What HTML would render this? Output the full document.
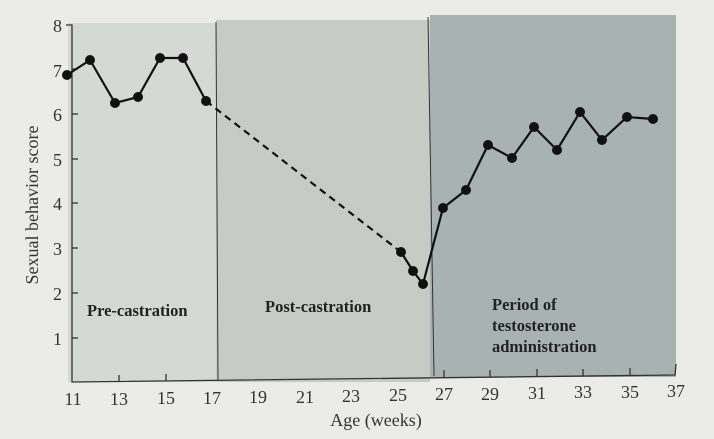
<!DOCTYPE html>
<html><head><meta charset="utf-8"><style>
html,body{margin:0;padding:0;background:#ebebea;}
svg{display:block;font-family:"Liberation Serif",serif;}
</style></head><body>
<svg width="714" height="439" viewBox="0 0 714 439">
<rect width="714" height="439" fill="#ebebea"/>
<rect x="68" y="23" width="148" height="359" fill="#d4d9d3"/>
<rect x="216" y="20" width="214" height="362" fill="#c7cbc6"/>
<rect x="430" y="15" width="246" height="362" fill="#a8b2b1"/>
<line x1="216" y1="22" x2="218" y2="380" stroke="#333" stroke-width="1"/>
<line x1="428" y1="17" x2="434" y2="376" stroke="#333" stroke-width="1"/>
<polyline points="66,25 72,25 72,382 675,375 676,364" fill="none" stroke="#333" stroke-width="1.3"/>
<g stroke="#333" stroke-width="1.3">
<line x1="72" y1="69" x2="78" y2="69"/><line x1="72" y1="114" x2="78" y2="114"/>
<line x1="72" y1="159" x2="78" y2="159"/><line x1="72" y1="203" x2="78" y2="203"/>
<line x1="72" y1="248" x2="78" y2="248"/><line x1="72" y1="293" x2="78" y2="293"/>
<line x1="72" y1="338" x2="78" y2="338"/>
<line x1="119" y1="382" x2="119" y2="375"/><line x1="166" y1="381" x2="166" y2="374"/>
<line x1="444" y1="377" x2="444" y2="370"/><line x1="490" y1="377" x2="490" y2="370"/>
<line x1="537" y1="376" x2="537" y2="369"/><line x1="583" y1="376" x2="583" y2="369"/>
<line x1="630" y1="375" x2="630" y2="368"/>
</g>
<g font-size="18" fill="#333" text-anchor="end">
<text x="62" y="32">8</text><text x="62" y="77">7</text><text x="62" y="121">6</text>
<text x="62" y="166">5</text><text x="62" y="210">4</text><text x="62" y="255">3</text>
<text x="62" y="300">2</text><text x="62" y="345">1</text>
</g>
<g font-size="18" fill="#333" text-anchor="middle">
<text x="73" y="405">11</text><text x="119" y="405">13</text><text x="166" y="404">15</text>
<text x="212" y="404">17</text><text x="258" y="403">19</text><text x="305" y="403">21</text>
<text x="351" y="402">23</text><text x="398" y="401">25</text><text x="444" y="400">27</text>
<text x="490" y="400">29</text><text x="537" y="399">31</text><text x="583" y="398">33</text>
<text x="630" y="398">35</text><text x="676" y="397">37</text>
</g>
<text x="376" y="426" font-size="18" fill="#333" text-anchor="middle">Age (weeks)</text>
<text transform="translate(38,205) rotate(-90)" font-size="18" fill="#333" text-anchor="middle">Sexual behavior score</text>
<g font-size="16.5" font-weight="bold" fill="#222">
<text x="87" y="316">Pre-castration</text>
<text x="265" y="312">Post-castration</text>
<text x="492" y="310">Period of</text>
<text x="492" y="331">testosterone</text>
<text x="492" y="352">administration</text>
</g>
<polyline points="67,75 90,60 115,103 138,97 160,58 183,58 206,101" fill="none" stroke="#111" stroke-width="2.2"/>
<line x1="206" y1="101" x2="401" y2="252" stroke="#111" stroke-width="2.2" stroke-dasharray="7,5"/>
<polyline points="401,252 413,271 423,284 443,208 466,190 488,145 512,158 534,127 557,150 580,112 602,140 627,117 653,119" fill="none" stroke="#111" stroke-width="2.2"/>
<g fill="#111">
<circle cx="67" cy="75" r="5"/><circle cx="90" cy="60" r="5"/><circle cx="115" cy="103" r="5"/>
<circle cx="138" cy="97" r="5"/><circle cx="160" cy="58" r="5"/><circle cx="183" cy="58" r="5"/>
<circle cx="206" cy="101" r="5"/><circle cx="401" cy="252" r="5"/><circle cx="413" cy="271" r="5"/>
<circle cx="423" cy="284" r="5"/><circle cx="443" cy="208" r="5"/><circle cx="466" cy="190" r="5"/>
<circle cx="488" cy="145" r="5"/><circle cx="512" cy="158" r="5"/><circle cx="534" cy="127" r="5"/>
<circle cx="557" cy="150" r="5"/><circle cx="580" cy="112" r="5"/><circle cx="602" cy="140" r="5"/>
<circle cx="627" cy="117" r="5"/><circle cx="653" cy="119" r="5"/>
</g>
</svg>
</body></html>
